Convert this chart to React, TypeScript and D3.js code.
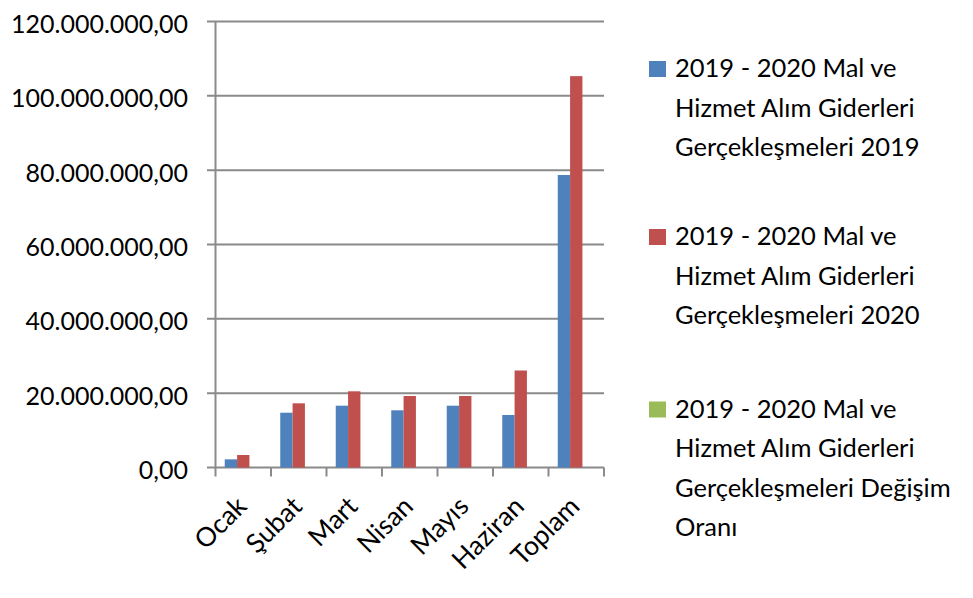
import React from "react";
import * as d3 from "d3";

const categories = ["Ocak", "Şubat", "Mart", "Nisan", "Mayıs", "Haziran", "Toplam"];
const values2019 = [2200000, 14740000, 16630000, 15390000, 16630000, 14130000, 78700000];
const values2020 = [3360000, 17270000, 20500000, 19240000, 19240000, 26100000, 105300000];
const valuesChange = [0, 0, 0, 0, 0, 0, 0];
const yTicks = [0, 20000000, 40000000, 60000000, 80000000, 100000000, 120000000];
const seriesNames = [
  ["2019 - 2020 Mal ve", "Hizmet Alım Giderleri", "Gerçekleşmeleri 2019"],
  ["2019 - 2020 Mal ve", "Hizmet Alım Giderleri", "Gerçekleşmeleri 2020"],
  ["2019 - 2020 Mal ve", "Hizmet Alım Giderleri", "Gerçekleşmeleri Değişim", "Oranı"],
];
const colors = ["#4F81BD", "#C0504D", "#9BBB59"];

const W = 973;
const H = 598;
const FONT = "Lato, 'Open Sans', sans-serif";

function fmt(v: number) {
  const s = d3.format(",.2f")(v);
  return s.replace(/,/g, "#").replace(/\./g, ",").replace(/#/g, ".");
}

export default function App() {
  const x0 = 215.5;
  const x1 = 604;
  const yTop = 21.5;
  const yBot = 467.5;
  const y = d3.scaleLinear().domain([0, 120000000]).range([yBot, yTop]);
  const x = d3.scaleBand().domain(categories).range([x0, x1]).paddingInner(0).paddingOuter(0);
  const bw = x.bandwidth();
  const barW = bw / 4.5;
  const inner = d3.scaleBand().domain(["a", "b", "c"]).range([bw * 0.75 / 4.5, bw - bw * 0.75 / 4.5]);
  const series = [values2019, values2020, valuesChange];
  const keys = ["a", "b", "c"];
  const grid = "#8a8a8a";

  return (
    <svg width={W} height={H} style={{ position: "absolute", left: 0, top: 0, fontFamily: FONT }}>
      <rect width={W} height={H} fill="#fff" />
      {yTicks.map((t) => (
        <g key={t}>
          <line x1={207} x2={x1} y1={y(t)} y2={y(t)} stroke={grid} strokeWidth={2} />
          <text x={188} y={y(t) + 1.5} textAnchor="end" dominantBaseline="central" fontSize={25} fill="#000">
            {fmt(t)}
          </text>
        </g>
      ))}
      <line x1={x0} x2={x0} y1={yTop} y2={yBot + 9} stroke={grid} strokeWidth={2} />
      {categories.map((c) => (
        <line key={c} x1={(x(c) as number) + bw} x2={(x(c) as number) + bw} y1={yBot} y2={yBot + 9} stroke={grid} strokeWidth={2} />
      ))}
      {series.map((vals, si) =>
        vals.map((v, i) => {
          const bx = (x(categories[i]) as number) + (inner(keys[si]) as number);
          return v > 0 ? (
            <rect key={si + "-" + i} x={bx} y={y(v)} width={barW} height={yBot - y(v)} fill={colors[si]} />
          ) : null;
        })
      )}
      {categories.map((c) => {
        const cx = (x(c) as number) + bw / 2 + 5;
        const cy = 508;
        return (
          <g key={c} transform={`translate(${cx},${cy}) rotate(-45)`}>
            <text x={0} y={0} textAnchor="end" fontSize={26.5} fill="#000">
              {c}
            </text>
          </g>
        );
      })}
      {seriesNames.map((lines, si) => {
        const top = [61, 229, 401.5][si];
        return (
          <g key={si}>
            <rect x={649} y={top} width={17} height={16} fill={colors[si]} />
            {lines.map((l, li) => (
              <text key={li} x={675} y={top + 16 + li * 39.5} fontSize={25.5} fill="#000">
                {l}
              </text>
            ))}
          </g>
        );
      })}
    </svg>
  );
}
